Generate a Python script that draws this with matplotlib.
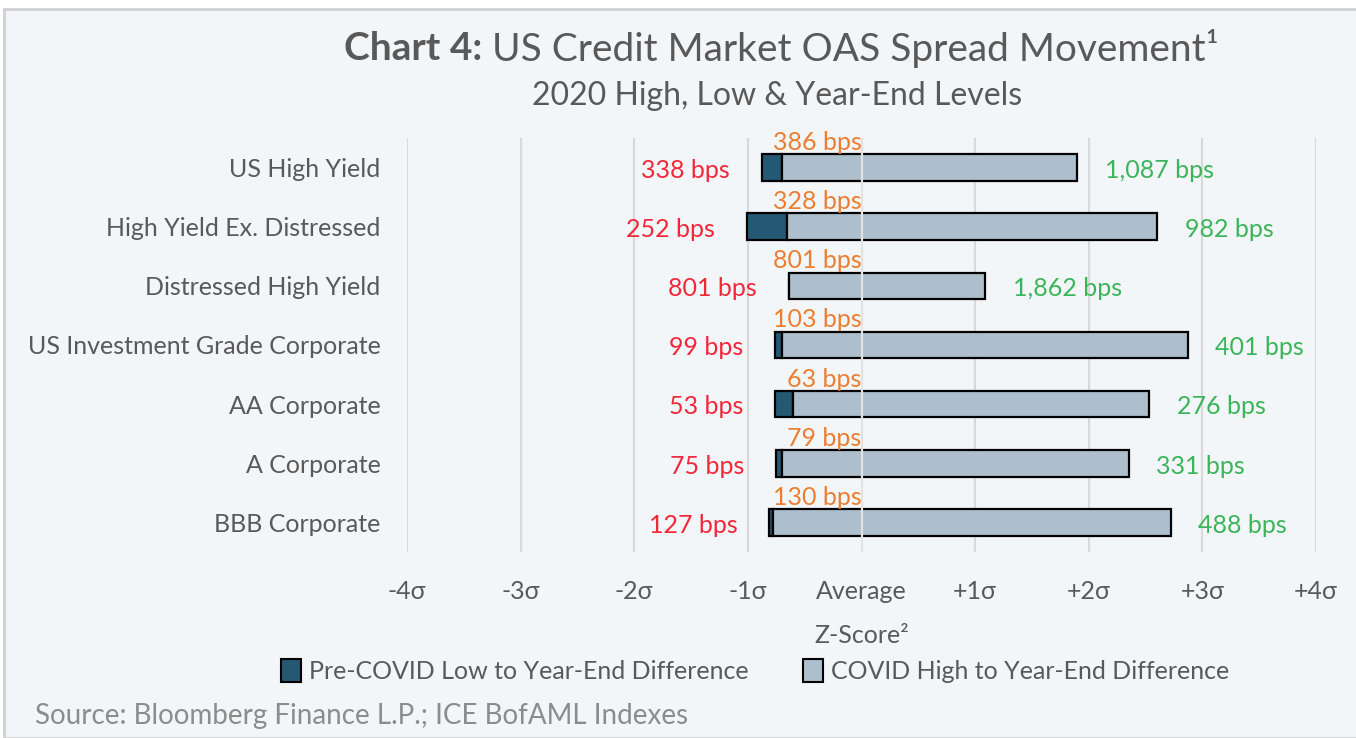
import matplotlib
matplotlib.use("Agg")
import matplotlib.pyplot as plt
from matplotlib.patches import Patch, Rectangle

# Data (z-scores and spread levels)
categories = ["US High Yield", "High Yield Ex. Distressed", "Distressed High Yield",
              "US Investment Grade Corporate", "AA Corporate", "A Corporate", "BBB Corporate"]
low_z = [-0.88, -1.01, -0.64, -0.76, -0.76, -0.75, -0.81]
ye_z = [-0.70, -0.66, -0.64, -0.70, -0.60, -0.70, -0.78]
high_z = [1.90, 2.60, 1.09, 2.87, 2.53, 2.35, 2.72]
low_bps = ["338 bps", "252 bps", "801 bps", "99 bps", "53 bps", "75 bps", "127 bps"]
ye_bps = ["386 bps", "328 bps", "801 bps", "103 bps", "63 bps", "79 bps", "130 bps"]
high_bps = ["1,087 bps", "982 bps", "1,862 bps", "401 bps", "276 bps", "331 bps", "488 bps"]
tick_vals = [-4, -3, -2, -1, 0, 1, 2, 3, 4]
tick_labels = ["-4σ", "-3σ", "-2σ", "-1σ", "Average", "+1σ", "+2σ", "+3σ", "+4σ"]

FONT = ["Lato", "DejaVu Sans"]
plt.rcParams["font.family"] = FONT
GRAY = "#595959"
BG = "#F3F6F9"
DARK = "#245873"
LIGHT = "#ADBFCC"
FS = 18

fig = plt.figure(figsize=(13.56, 7.38), dpi=100, facecolor="white")
# background panel with a thin gray border on top and left
fig.patches.append(Rectangle((4 / 1356, 0), 1, 1 - 9 / 738, transform=fig.transFigure,
                             facecolor=BG, edgecolor="#D0D0D0", lw=2, zorder=-10))

ax = fig.add_axes([407 / 1356, 1 - 552 / 738, 909 / 1356, 414 / 738])
ax.patch.set_alpha(0)

y = list(range(len(categories)))
dark_w = [ye - lo for lo, ye in zip(low_z, ye_z)]
light_w = [hi - ye for ye, hi in zip(ye_z, high_z)]
ax.barh(y, dark_w, left=low_z, height=0.45, color=DARK, edgecolor="black", lw=1.6, zorder=3)
ax.barh(y, light_w, left=ye_z, height=0.45, color=LIGHT, edgecolor="black", lw=1.6, zorder=3)

ax.set_xlim(-4, 4)
ax.set_ylim(len(categories) - 0.5, -0.5)
ax.set_xticks(tick_vals)
ax.set_xticklabels(tick_labels)
ax.set_yticks(y)
ax.set_yticklabels(categories)
ax.tick_params(axis="x", length=0, pad=20, labelsize=FS, labelcolor=GRAY)
ax.tick_params(axis="y", length=0, pad=19, labelsize=FS, labelcolor=GRAY)
for s in ax.spines.values():
    s.set_visible(False)
for v in tick_vals:
    if v == 0:
        ax.axvline(v, color="#E2E2E2", lw=1.6, zorder=5)
    else:
        ax.axvline(v, color="#D9D9D9", lw=1.6, zorder=1)

ax.set_xlabel("Z-Score²", fontsize=FS, color=GRAY, labelpad=15)

for i in y:
    ax.annotate(low_bps[i], (low_z[i], i), xytext=(-23, -2), textcoords="offset points",
                ha="right", va="center", fontsize=FS, color="#F2283A")
    ax.annotate(ye_bps[i], (0, i), xytext=(0, 18), textcoords="offset points",
                ha="right", va="center", fontsize=FS, color="#ED7D31")
    ax.annotate(high_bps[i], (high_z[i], i), xytext=(20, -2), textcoords="offset points",
                ha="left", va="center", fontsize=FS, color="#3BB55A")

# legend
handles = [Patch(facecolor=DARK, edgecolor="black", lw=1.5),
           Patch(facecolor=LIGHT, edgecolor="black", lw=1.5)]
fig.legend(handles, ["Pre-COVID Low to Year-End Difference", "COVID High to Year-End Difference"],
           loc="center", bbox_to_anchor=(755 / 1356, 1 - 671 / 738), ncol=2, frameon=False,
           fontsize=FS, labelcolor=GRAY, handlelength=0.8, handleheight=1.0,
           handletextpad=0.3, columnspacing=2.2)

# title: bold prefix followed by regular text
fig.canvas.draw()
r = fig.canvas.get_renderer()
t1 = fig.text(0, 1 - 48 / 738, "Chart 4: ", fontsize=28, fontweight="bold", color=GRAY, va="center")
t2 = fig.text(0, 1 - 48 / 738, "US Credit Market OAS Spread Movement¹", fontsize=28, color=GRAY, va="center")
w1 = t1.get_window_extent(r).width
w2 = t2.get_window_extent(r).width
x0 = 781 - (w1 + w2) / 2
t1.set_x(x0 / 1356)
t2.set_x((x0 + w1) / 1356)
fig.text(777 / 1356, 1 - 96 / 738, "2020 High, Low & Year-End Levels", fontsize=23,
         color=GRAY, ha="center", va="center")

fig.text(35 / 1356, 1 - 716 / 738, "Source: Bloomberg Finance L.P.; ICE BofAML Indexes",
         fontsize=20, color="#8C8C8C", ha="left", va="center")

fig.savefig("out.png", dpi=100, facecolor=fig.get_facecolor())
